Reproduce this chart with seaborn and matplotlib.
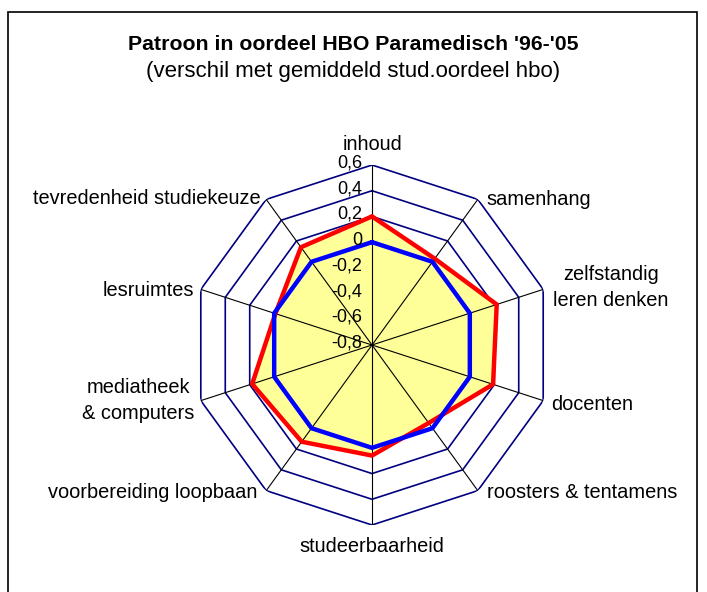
import numpy as np
import pandas as pd
import matplotlib
matplotlib.use("Agg")
import matplotlib.pyplot as plt
import seaborn as sns
from matplotlib.patches import Rectangle

categories = ["inhoud", "samenhang", "zelfstandig\nleren denken", "docenten",
              "roosters & tentamens", "studeerbaarheid", "voorbereiding loopbaan",
              "mediatheek\n& computers", "lesruimtes", "tevredenheid studiekeuze"]
paramedisch = [0.20, 0.03, 0.22, 0.19, -0.05, 0.06, 0.13, 0.18, -0.01, 0.14]
gemiddeld_hbo = [0.0, 0.0, 0.0, 0.0, 0.0, 0.0, 0.0, 0.0, 0.0, 0.0]
levels = [-0.8, -0.6, -0.4, -0.2, 0.0, 0.2, 0.4, 0.6]
level_labels = ["-0,8", "-0,6", "-0,4", "-0,2", "0", "0,2", "0,4", "0,6"]

sns.set_style("white")
plt.rcParams['font.family'] = ['Liberation Sans', 'DejaVu Sans']
plt.rcParams['text.color'] = 'black'

n = len(categories)
theta = np.linspace(0, 2 * np.pi, n, endpoint=False)
theta_closed = np.append(theta, 2 * np.pi)

df = pd.DataFrame({
    "theta": np.concatenate([theta_closed, theta_closed]),
    "waarde": paramedisch + paramedisch[:1] + gemiddeld_hbo + gemiddeld_hbo[:1],
    "reeks": ["paramedisch"] * (n + 1) + ["hbo"] * (n + 1),
})

fig = plt.figure(figsize=(7.07, 5.92), dpi=100)
ax = fig.add_axes([192 / 707, 67 / 592, 360 / 707, 360 / 592], projection="polar")
ax.set_theta_offset(np.pi / 2)
ax.set_theta_direction(-1)
ax.set_ylim(-0.8, 0.6)
ax.grid(False)
ax.spines["polar"].set_visible(False)
ax.set_xticks([])
ax.set_yticks([])
ax.patch.set_alpha(0)

# polygon rings
for lv in levels[1:]:
    ax.plot(theta_closed, [lv] * (n + 1), color="#000080", lw=1.2, zorder=1)

# filled area of the paramedisch series
ax.fill(theta_closed, paramedisch + paramedisch[:1], color="#FFFF99", zorder=2, lw=0)

# spokes
for t in theta:
    ax.plot([t, t], [-0.8, 0.6], color="black", lw=0.8, zorder=3)

sns.lineplot(data=df, x="theta", y="waarde", hue="reeks", hue_order=["paramedisch", "hbo"],
             palette=["#FF0000", "#0000FF"], linewidth=3.2, sort=False, legend=False,
             ax=ax, zorder=4)
ax.set_xlabel("")
ax.set_ylabel("")

px = 72 / 100  # pixels -> points

# radial tick labels
for lv, lab in zip(levels, level_labels):
    ax.annotate(lab, xy=(0, lv), xytext=(-10 * px, 2 * px), textcoords="offset points",
                fontsize=13, ha="right", va="center", zorder=5)

# category labels: offset (pixels) from the outer vertex
label_off = [
    (0, 20, "center"),
    (9, 0, "left"),
    (10, 2, "left"),
    (8, -4, "left"),
    (9, -2, "left"),
    (0, -22, "center"),
    (-9, -2, "right"),
    (-6, 0, "right"),
    (-7, -1, "right"),
    (-6, 1, "right"),
]
for t, lab, (dx, dy, ha) in zip(theta, categories, label_off):
    ax.annotate(lab, xy=(t, 0.6), xytext=(dx * px, dy * px), textcoords="offset points",
                fontsize=14.4, ha=ha, va="center", multialignment="center",
                linespacing=1.45)

fig.text(0.5, 1 - 44 / 592, "Patroon in oordeel HBO Paramedisch '96-'05",
         ha="center", va="center", fontsize=15.3, fontweight="bold")
fig.text(0.5, 1 - 71 / 592, "(verschil met gemiddeld stud.oordeel hbo)",
         ha="center", va="center", fontsize=16)

fig.patches.append(Rectangle((8 / 707, -0.1), 689 / 707, 1.1 - 12 / 592,
                             transform=fig.transFigure, fill=False,
                             edgecolor="black", lw=1.2))

fig.savefig("out.png", dpi=100)
